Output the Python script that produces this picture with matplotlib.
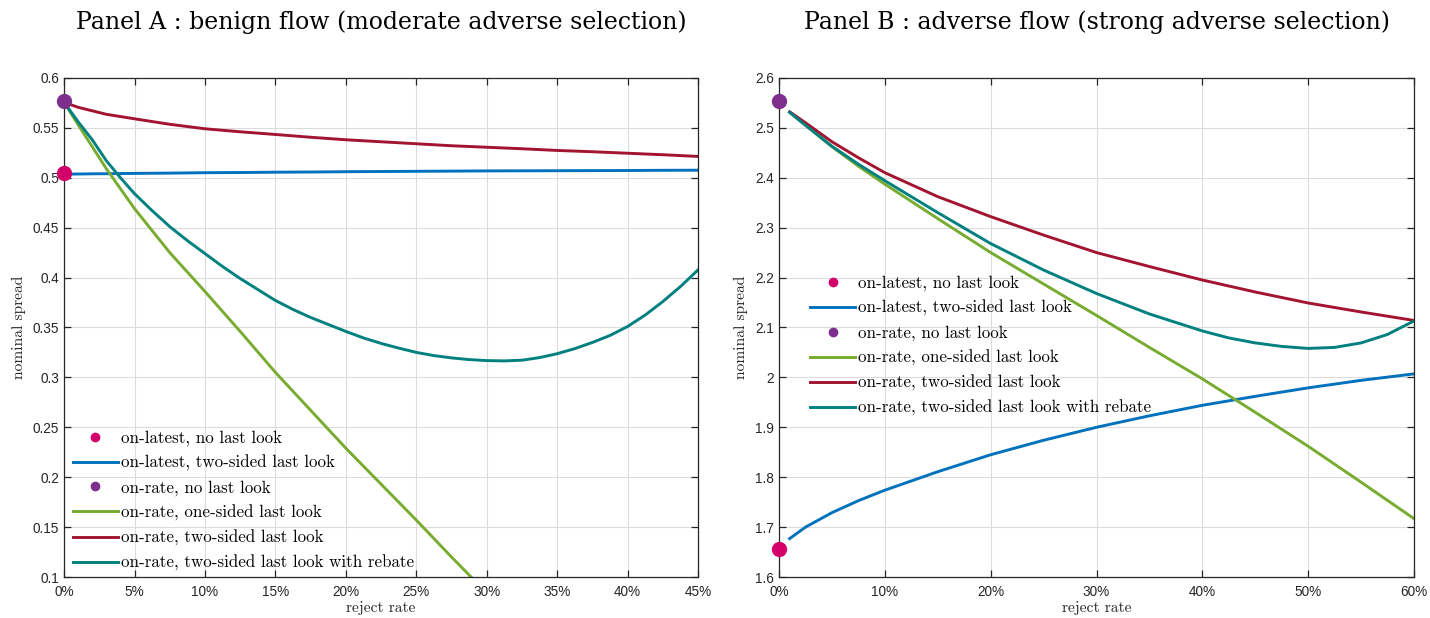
import matplotlib
matplotlib.use("Agg")
import matplotlib.pyplot as plt

# Panel A : benign flow
xa = [0, 0.01, 0.02, 0.03, 0.05, 0.075, 0.10, 0.125, 0.15, 0.175, 0.20,
      0.225, 0.25, 0.275, 0.30, 0.325, 0.35, 0.375, 0.40, 0.425, 0.45]
a_latest_two = [0.5035, 0.5037, 0.5039, 0.5040, 0.5043, 0.5046, 0.5050, 0.5052,
                0.5055, 0.5057, 0.5060, 0.5062, 0.5064, 0.5066, 0.5068, 0.5069,
                0.5070, 0.5071, 0.5072, 0.5074, 0.5075]
a_rate_two = [0.5755, 0.5705, 0.5670, 0.5635, 0.5590, 0.5535, 0.5490, 0.5460,
              0.5433, 0.5405, 0.5380, 0.5360, 0.5340, 0.5320, 0.5305, 0.5290,
              0.5273, 0.5260, 0.5245, 0.5230, 0.5213]
xa_rebate = [0, 0.01, 0.02, 0.03, 0.04, 0.05, 0.0625, 0.075, 0.0875, 0.10,
             0.1125, 0.125, 0.1375, 0.15, 0.1625, 0.175, 0.1875, 0.20, 0.2125,
             0.225, 0.2375, 0.25, 0.2625, 0.275, 0.2875, 0.30, 0.3125, 0.325,
             0.3375, 0.35, 0.3625, 0.375, 0.3875, 0.40, 0.4125, 0.425, 0.4375,
             0.45]
a_rate_rebate = [0.5755, 0.556, 0.538, 0.517, 0.500, 0.484, 0.467, 0.451,
                 0.437, 0.424, 0.411, 0.399, 0.388, 0.377, 0.368, 0.360,
                 0.353, 0.346, 0.3395, 0.334, 0.3293, 0.325, 0.3218, 0.3195,
                 0.3178, 0.3168, 0.3165, 0.3172, 0.3198, 0.3237, 0.3288,
                 0.335, 0.342, 0.351, 0.3625, 0.376, 0.391, 0.4077]
xa_one = [0, 0.01, 0.02, 0.03, 0.05, 0.075, 0.10, 0.125, 0.15, 0.175, 0.20,
          0.225, 0.25, 0.275, 0.30]
a_rate_one = [0.5755, 0.553, 0.531, 0.509, 0.469, 0.425, 0.386, 0.346, 0.305,
              0.267, 0.229, 0.193, 0.157, 0.120, 0.084]
a_latest_none = 0.5045
a_rate_none = 0.5765

# Panel B : adverse flow
xb = [0.01, 0.025, 0.05, 0.075, 0.10, 0.15, 0.20, 0.25, 0.30, 0.35, 0.40,
      0.45, 0.50, 0.55, 0.60]
b_latest_two = [1.677, 1.700, 1.729, 1.753, 1.774, 1.811, 1.845, 1.874, 1.900,
                1.923, 1.944, 1.962, 1.979, 1.994, 2.007]
b_rate_one = [2.531, 2.505, 2.462, 2.423, 2.387, 2.318, 2.250, 2.187, 2.124,
              2.060, 1.997, 1.930, 1.862, 1.790, 1.717]
b_rate_two = [2.532, 2.510, 2.472, 2.440, 2.410, 2.362, 2.322, 2.285, 2.250,
              2.222, 2.195, 2.171, 2.149, 2.131, 2.114]
xb_rebate = [0.01, 0.025, 0.05, 0.075, 0.10, 0.15, 0.20, 0.25, 0.30, 0.35,
             0.40, 0.425, 0.45, 0.475, 0.50, 0.525, 0.55, 0.575, 0.60]
b_rate_rebate = [2.531, 2.505, 2.463, 2.427, 2.394, 2.330, 2.268, 2.215, 2.168,
                 2.127, 2.093, 2.079, 2.069, 2.062, 2.058, 2.060, 2.069, 2.086,
                 2.113]
b_latest_none = 1.657
b_rate_none = 2.553

labels = ["on-latest, no last look", "on-latest, two-sided last look",
          "on-rate, no last look", "on-rate, one-sided last look",
          "on-rate, two-sided last look",
          "on-rate, two-sided last look with rebate"]

xticks_a = [0, 0.05, 0.10, 0.15, 0.20, 0.25, 0.30, 0.35, 0.40, 0.45]
xticks_b = [0, 0.10, 0.20, 0.30, 0.40, 0.50, 0.60]
yticks_a = [0.1, 0.15, 0.2, 0.25, 0.3, 0.35, 0.4, 0.45, 0.5, 0.55, 0.6]
yticks_b = [1.6, 1.7, 1.8, 1.9, 2.0, 2.1, 2.2, 2.3, 2.4, 2.5, 2.6]

MAGENTA = "#D4006A"
PURPLE = "#7E2F8E"
BLUE = "#0072BD"
GREEN = "#77AC30"
RED = "#A2142F"
TEAL = "#00807F"

SERIF = ["cmr10", "DejaVu Serif"]
TICKC = "#262626"


def draw_panel(ax, x, x1, xr, latest_two, rate_one, rate_two, rebate,
               latest_none, rate_none, xticks, yticks, ylim, title, leg_loc):
    lw = 2.1
    h1, = ax.plot([0], [latest_none], "o", color=MAGENTA, ms=10, clip_on=False, zorder=5)
    h2, = ax.plot(x, latest_two, color=BLUE, lw=lw)
    h3, = ax.plot([0], [rate_none], "o", color=PURPLE, ms=10, clip_on=False, zorder=5)
    h4, = ax.plot(x1, rate_one, color=GREEN, lw=lw)
    h5, = ax.plot(x, rate_two, color=RED, lw=lw)
    h6, = ax.plot(xr, rebate, color=TEAL, lw=lw)

    ax.set_xlim(xticks[0], xticks[-1])
    ax.set_ylim(*ylim)
    ax.set_xticks(xticks)
    ax.set_xticklabels(["%d%%" % round(t * 100) for t in xticks])
    ax.set_yticks(yticks)
    ax.set_yticklabels(["%g" % t for t in yticks])
    ax.grid(True, color="#dcdcdc", lw=0.8)
    ax.set_axisbelow(True)
    ax.tick_params(direction="in", top=True, right=True, length=5,
                   color=TICKC, labelcolor=TICKC, labelsize=9.8, width=0.9)
    ax.tick_params(axis="x", pad=6)
    for lab in ax.get_xticklabels() + ax.get_yticklabels():
        lab.set_family(["Liberation Sans", "DejaVu Sans"])
    for sp in ax.spines.values():
        sp.set_color(TICKC)
        sp.set_linewidth(0.9)
    ax.set_xlabel("reject rate", family=SERIF, fontsize=11.2, color=TICKC, labelpad=1)
    ax.set_ylabel("nominal spread", family=SERIF, fontsize=11.2, color=TICKC, labelpad=5)
    ax.set_title(title, family=["DejaVu Serif"], fontsize=17, pad=35)
    ax.legend([h1, h2, h3, h4, h5, h6], labels, loc="lower left",
              bbox_to_anchor=leg_loc, frameon=False, markerscale=0.6,
              handlelength=2.65, handletextpad=0.18, labelspacing=0.52,
              prop={"family": SERIF, "size": 12.2}, borderaxespad=0,
              borderpad=0)


fig = plt.figure(figsize=(14.3, 6.18), dpi=100)
ax1 = fig.add_axes([0.0448, 0.0663, 0.4434, 0.8077])
ax2 = fig.add_axes([0.5448, 0.0663, 0.4440, 0.8077])

draw_panel(ax1, xa, xa_one, xa_rebate, a_latest_two, a_rate_one, a_rate_two,
           a_rate_rebate, a_latest_none, a_rate_none, xticks_a, yticks_a,
           (0.1, 0.6), "Panel A : benign flow (moderate adverse selection)",
           (0.014, 0.012))
draw_panel(ax2, xb, xb, xb_rebate, b_latest_two, b_rate_one, b_rate_two,
           b_rate_rebate, b_latest_none, b_rate_none, xticks_b, yticks_b,
           (1.6, 2.6), "Panel B : adverse flow (strong adverse selection)",
           (0.049, 0.322))

fig.savefig("out.png", dpi=100)
